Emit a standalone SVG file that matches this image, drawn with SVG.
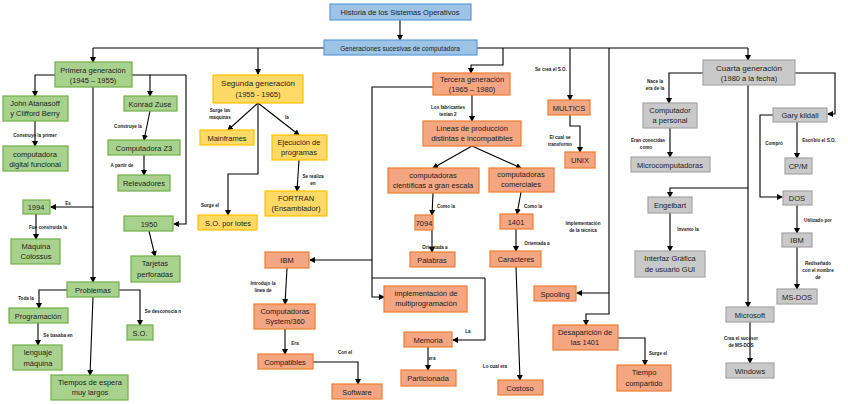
<svg xmlns="http://www.w3.org/2000/svg" width="848" height="404" viewBox="0 0 848 404">
<defs>
<marker id="a" markerWidth="6" markerHeight="6" refX="5" refY="3" orient="auto" markerUnits="userSpaceOnUse"><path d="M0,0 L6,3 L0,6 z" fill="#000"/></marker>
<style>
rect{stroke-width:1.2}
.g rect{fill:#a9d18e;stroke:#70ad47}
.y rect{fill:#ffd966;stroke:#ffc000}
.o rect{fill:#f4a582;stroke:#ed7d31}
.s rect{fill:#c9c9c9;stroke:#a5a5a5}
.b rect{fill:#9dc3e6;stroke:#5b9bd5}
text{font-family:"Liberation Sans",Arial,sans-serif;font-size:7.5px;text-anchor:middle;fill:#222}
.l text{font-size:4.6px;font-weight:bold}
#c path{fill:none;stroke:#000;stroke-width:1.1;marker-end:url(#a)}
#c path.n{marker-end:none}
</style>
</defs>
<rect width="848" height="404" fill="#fff"/>
<g id="c">
<path d="M400,20 V40"/>
<path class="n" d="M324,48 H93"/><path d="M93,48 V62"/>
<path d="M258,48 V74"/>
<path class="n" d="M477,48 H748"/>
<path d="M503,48 V65 H471 V73"/>
<path d="M570,48 V100"/>
<path d="M609,48 V293 H577"/>
<path d="M609,293 V314 H586 V325"/>
<path d="M748,48 V60"/>
<path d="M55,75 H35 V96"/>
<path d="M35,121 V146"/>
<path d="M93,87 V207 H51"/>
<path d="M93,207 V282"/>
<path d="M36,214 V239"/>
<path d="M132,75 H150 V96"/>
<path class="n" d="M150,75 H186"/>
<path d="M186,75 V224 H174"/>
<path d="M150,111 L144,140"/>
<path d="M144,155 V175"/>
<path d="M149,231 L155,256"/>
<path d="M67,290 H39 V308"/>
<path d="M38,323 V345"/>
<path d="M93,297 L90,375"/>
<path d="M119,290 H140 V325"/>
<path d="M258,103 L228,130"/>
<path d="M258,103 L299,135"/>
<path d="M258,103 V174 H228 V215"/>
<path d="M299,160 L297,191"/>
<path d="M433,87 H372 V260 H310"/>
<path d="M372,260 V297 H384"/>
<path class="n" d="M372,278 H485"/>
<path d="M485,278 V340 H453"/>
<path d="M472,95 V121"/>
<path d="M472,146 L433,168"/>
<path d="M472,146 L521,168"/>
<path d="M433,193 L432,215"/>
<path d="M432,230 V252"/>
<path d="M521,192 L517,214"/>
<path d="M516,229 V251"/>
<path d="M516,267 L520,380"/>
<path d="M428,347 V370"/>
<path d="M570,115 V126 H580 V152"/>
<path d="M618,338 H645 V365"/>
<path d="M287,268 L285,304"/>
<path d="M285,329 V354"/>
<path d="M313,362 H358 V384"/>
<path d="M703,73 H669 V103"/>
<path d="M670,128 V157"/>
<path d="M748,85 V188 H670 V197"/>
<path d="M748,188 V307"/>
<path d="M670,213 V251"/>
<path d="M750,322 V363"/>
<path d="M795,73 H835 V114 H828"/>
<path d="M773,115 H760 V197 H782"/>
<path d="M797,122 V158"/>
<path d="M797,205 V233"/>
<path d="M797,247 V289"/>
</g>
<g class="l">
<text x="35" y="137">Construye la primer</text>
<text x="68" y="205">Es</text>
<text x="48" y="229">Fue construida la</text>
<text x="128" y="128">Construye la</text>
<text x="122" y="167">A partir de</text>
<text x="26" y="300">Toda la</text>
<text x="58" y="337">Se basaba en</text>
<text x="163" y="313">Se desconocia n</text>
<text x="220" y="112">Surge las</text><text x="220" y="119">maquinas</text>
<text x="287" y="119">la</text>
<text x="313" y="178">Se realiza</text><text x="313" y="185">en</text>
<text x="210" y="207">Surge el</text>
<text x="263" y="285">Introdujo la</text><text x="263" y="292">linea de</text>
<text x="295" y="345">Era</text>
<text x="345" y="354">Con el</text>
<text x="448" y="109">Los fabricantes</text><text x="448" y="116">tenían 2</text>
<text x="446" y="208">Como la</text>
<text x="435" y="249">Orientada a</text>
<text x="533" y="208">Como la</text>
<text x="537" y="245">Orientada a</text>
<text x="468" y="333">La</text>
<text x="432" y="360">era</text>
<text x="495" y="368">Lo cual era</text>
<text x="551" y="71">Se crea el S.O.</text>
<text x="560" y="139">El cual se</text><text x="560" y="146">transformo</text>
<text x="583" y="225">Implementación</text><text x="583" y="232">de la técnica</text>
<text x="658" y="355">Surge el</text>
<text x="655" y="83">Nace la</text><text x="655" y="90">era de la</text>
<text x="648" y="142">Eran conocidas</text><text x="646" y="149">como</text>
<text x="688" y="231">Invento la</text>
<text x="774" y="145">Compró</text>
<text x="819" y="142">Escribió el S.O.</text>
<text x="818" y="222">Utilizado por</text>
<text x="818" y="265">Rediseñado</text><text x="818" y="272">con el nombre</text><text x="818" y="279">de</text>
<text x="741" y="340">Crea el sucesor</text><text x="741" y="347">de MS-DOS</text>
</g>
<g id="title" class="b"><rect x="330" y="4" width="141" height="16"/><text x="400" y="15">Historia de los Sistemas Operativos</text></g>
<g id="gen" class="b"><rect x="324" y="40" width="153" height="15"/><text x="400" y="50.5" style="font-size:6.5px">Generaciones sucesivas de computadora</text></g>
<g class="g">
<g id="primera"><rect x="55" y="62" width="77" height="25"/><text x="93" y="73">Primera generación</text><text x="93" y="83">(1945 – 1955)</text></g>
<g id="john"><rect x="3" y="96" width="65" height="25"/><text x="35" y="106">John Atanasoff</text><text x="35" y="116">y Clifford Berry</text></g>
<g id="cdf"><rect x="3" y="146" width="65" height="25"/><text x="35" y="157">computadora</text><text x="35" y="167">digital funcional</text></g>
<g id="y1994"><rect x="23" y="200" width="27" height="14"/><text x="36" y="210">1994</text></g>
<g id="colossus"><rect x="11" y="239" width="49" height="25"/><text x="36" y="249">Máquina</text><text x="36" y="259">Colossus</text></g>
<g id="konrad"><rect x="124" y="96" width="53" height="15"/><text x="150" y="106.5">Konrad Zuse</text></g>
<g id="z3"><rect x="108" y="140" width="72" height="15"/><text x="144" y="150.5">Computadora Z3</text></g>
<g id="relev"><rect x="118" y="175" width="52" height="16"/><text x="144" y="186">Relevadores</text></g>
<g id="y1950"><rect x="124" y="216" width="49" height="15"/><text x="149" y="226.5">1950</text></g>
<g id="tarjetas"><rect x="131" y="256" width="49" height="26"/><text x="155" y="266">Tarjetas</text><text x="155" y="277">perforadas</text></g>
<g id="problemas"><rect x="67" y="282" width="52" height="15"/><text x="93" y="292.5">Problemas</text></g>
<g id="prog"><rect x="9" y="308" width="59" height="15"/><text x="38" y="318.5">Programación</text></g>
<g id="lenguaje"><rect x="13" y="345" width="49" height="25"/><text x="38" y="355">lenguaje</text><text x="38" y="366">máquina</text></g>
<g id="so1"><rect x="127" y="325" width="26" height="15"/><text x="140" y="335.5">S.O.</text></g>
<g id="tiempos"><rect x="51" y="375" width="77" height="25"/><text x="90" y="385">Tiempos de espera</text><text x="90" y="395">muy largos</text></g>
</g>
<g class="y">
<g id="segunda"><rect x="213" y="75" width="90" height="28"/><text x="258" y="86" style="font-size:8px">Segunda generación</text><text x="258" y="97">(1955 - 1965)</text></g>
<g id="mainframes"><rect x="200" y="130" width="54" height="15"/><text x="227" y="140.5">Mainframes</text></g>
<g id="ejec"><rect x="272" y="135" width="55" height="25"/><text x="299" y="145">Ejecución de</text><text x="299" y="155">programas</text></g>
<g id="fortran"><rect x="265" y="191" width="62" height="25"/><text x="296" y="201">FORTRAN</text><text x="296" y="211">(Ensamblador)</text></g>
<g id="lotes"><rect x="198" y="215" width="59" height="15"/><text x="228" y="225.5">S.O. por lotes</text></g>
</g>
<g class="o">
<g id="tercera"><rect x="433" y="73" width="77" height="22"/><text x="472" y="82">Tercera generación</text><text x="472" y="92">(1965 – 1980)</text></g>
<g id="lineas"><rect x="423" y="121" width="98" height="25"/><text x="472" y="131">Líneas de producción</text><text x="472" y="141">distintas e incompatibles</text></g>
<g id="cientificas"><rect x="388" y="168" width="91" height="25"/><text x="433" y="178">computadoras</text><text x="433" y="188">científicas a gran escala</text></g>
<g id="comerciales"><rect x="489" y="168" width="65" height="24"/><text x="521" y="177">computadoras</text><text x="521" y="187">comerciales</text></g>
<g id="n7094"><rect x="415" y="215" width="18" height="15"/><text x="424" y="225.5">7094</text></g>
<g id="palabras"><rect x="410" y="252" width="45" height="15"/><text x="432" y="262.5">Palabras</text></g>
<g id="n1401"><rect x="500" y="214" width="33" height="15"/><text x="516" y="224.5">1401</text></g>
<g id="caracteres"><rect x="490" y="251" width="51" height="16"/><text x="516" y="262">Caracteres</text></g>
<g id="costoso"><rect x="498" y="380" width="45" height="15"/><text x="520" y="390.5">Costoso</text></g>
<g id="multi"><rect x="384" y="286" width="83" height="26"/><text x="426" y="296">implementación de</text><text x="426" y="306">multiprogramación</text></g>
<g id="memoria"><rect x="404" y="332" width="48" height="15"/><text x="428" y="342.5">Memoria</text></g>
<g id="particionada"><rect x="401" y="370" width="55" height="16"/><text x="428" y="381">Particionada</text></g>
<g id="ibm1"><rect x="265" y="252" width="44" height="16"/><text x="287" y="263">IBM</text></g>
<g id="s360"><rect x="254" y="304" width="61" height="25"/><text x="285" y="314">Computadoras</text><text x="285" y="324">System/360</text></g>
<g id="compat"><rect x="258" y="354" width="55" height="15"/><text x="285" y="364.5">Compatibles</text></g>
<g id="software"><rect x="332" y="384" width="50" height="15"/><text x="357" y="394.5">Software</text></g>
<g id="multics"><rect x="548" y="100" width="42" height="15"/><text x="569" y="110.5">MULTICS</text></g>
<g id="unix"><rect x="565" y="152" width="30" height="16"/><text x="580" y="163">UNIX</text></g>
<g id="spooling"><rect x="534" y="286" width="42" height="15"/><text x="555" y="296.5">Spooling</text></g>
<g id="desap"><rect x="553" y="325" width="65" height="25"/><text x="585" y="335">Desaparición de</text><text x="585" y="345">las 1401</text></g>
<g id="tiempo"><rect x="617" y="365" width="54" height="26"/><text x="644" y="375">Tiempo</text><text x="644" y="386">compartido</text></g>
</g>
<g class="s">
<g id="cuarta"><rect x="703" y="60" width="92" height="25"/><text x="749" y="71" style="font-size:8px">Cuarta generación</text><text x="749" y="81">(1980 a la fecha)</text></g>
<g id="pc"><rect x="643" y="103" width="54" height="25"/><text x="670" y="113">Computador</text><text x="670" y="123">a personal</text></g>
<g id="micro"><rect x="631" y="157" width="79" height="15"/><text x="670" y="167.5">Microcomputadoras</text></g>
<g id="engel"><rect x="648" y="197" width="44" height="16"/><text x="670" y="208">Engelbart</text></g>
<g id="gui"><rect x="635" y="251" width="70" height="26"/><text x="670" y="261">Interfaz Gráfica</text><text x="670" y="272">de usuario GUI</text></g>
<g id="microsoft"><rect x="726" y="307" width="48" height="15"/><text x="750" y="317.5">Microsoft</text></g>
<g id="windows"><rect x="726" y="363" width="48" height="15"/><text x="750" y="373.5">Windows</text></g>
<g id="gary"><rect x="773" y="108" width="54" height="14"/><text x="800" y="117.5">Gary kildall</text></g>
<g id="cpm"><rect x="785" y="158" width="27" height="16"/><text x="798" y="169">CP/M</text></g>
<g id="dos"><rect x="783" y="191" width="29" height="14"/><text x="797" y="200.5">DOS</text></g>
<g id="ibm2"><rect x="782" y="233" width="30" height="14"/><text x="797" y="242.5">IBM</text></g>
<g id="msdos"><rect x="777" y="289" width="40" height="15"/><text x="797" y="299.5">MS-DOS</text></g>
</g>
</svg>
